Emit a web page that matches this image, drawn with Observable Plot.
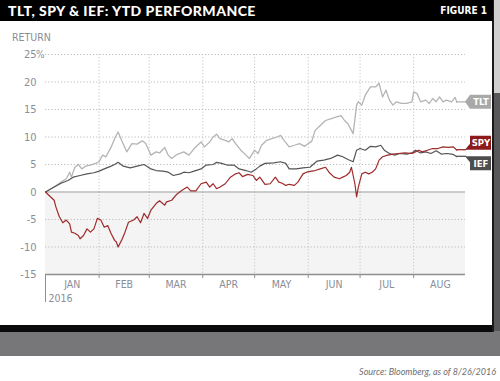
<!DOCTYPE html>
<html><head><meta charset="utf-8">
<script src="https://cdn.jsdelivr.net/npm/d3@7"></script>
<script src="https://cdn.jsdelivr.net/npm/@observablehq/plot@0.6"></script>
<style>
html,body{margin:0;padding:0;background:#fff;}
#wrap{position:relative;width:500px;height:381px;overflow:hidden;background:#fff;}
.abs{position:absolute;}
#shR{left:493px;top:0;width:7px;height:356px;background:#58585a;}
#shRl{left:494px;top:0;width:6px;height:93px;background:#cfcfd0;}
#shB{left:0;top:331px;width:500px;height:25px;background:#77777a;}
#blkB{left:0;top:325px;width:494px;height:7px;background:#0a0a0a;}
#blkR{left:492px;top:0;width:2px;height:332px;background:#1a1a1a;}
#bar{left:0;top:0;width:493px;height:21px;background:#000;}
#title{left:8px;top:2px;color:#fff;font-family:Lato,"Open Sans",sans-serif;font-weight:900;font-size:14px;letter-spacing:0.45px;line-height:17px;white-space:nowrap;}
#fig{left:420px;width:67px;text-align:right;top:4px;color:#fff;font-family:"DejaVu Sans Condensed","DejaVu Sans",sans-serif;font-stretch:condensed;font-weight:bold;font-size:10px;line-height:13px;white-space:nowrap;}
#ret{left:12px;top:31px;color:#8a8e98;font-family:"DejaVu Sans Condensed","DejaVu Sans",sans-serif;font-stretch:condensed;font-size:10.5px;line-height:12px;}
#src{right:4px;top:366px;color:#6e6e70;font-family:Lato,"Open Sans",sans-serif;font-style:italic;font-size:9px;line-height:11px;white-space:nowrap;}
#chart{left:0;top:0;}
</style></head>
<body><div id="wrap">
<div id="shR" class="abs"></div>
<div id="shRl" class="abs"></div>
<div id="shB" class="abs"></div>
<div id="chart" class="abs"></div>
<div id="blkB" class="abs"></div>
<div id="blkR" class="abs"></div>
<div id="bar" class="abs"></div>
<div id="title" class="abs">TLT, SPY &amp; IEF: YTD PERFORMANCE</div>
<div id="fig" class="abs">FIGURE 1</div>
<div id="ret" class="abs">RETURN</div>
<div id="src" class="abs">Source: Bloomberg, as of 8/26/2016</div>
</div>
<script>
// ---- data (YTD % return) ----
const tlt = [["2016-01-01",0],["2016-01-06",0.9],["2016-01-10",1.8],["2016-01-13",2.4],["2016-01-15",3.6],["2016-01-16",2.7],["2016-01-18",4.5],["2016-01-20",5.0],["2016-01-22",4.2],["2016-01-24",4.7],["2016-01-27",4.9],["2016-01-30",5.2],["2016-02-01",5.5],["2016-02-03",6.7],["2016-02-05",6.4],["2016-02-08",8.2],["2016-02-10",9.7],["2016-02-12",10.9],["2016-02-14",9.4],["2016-02-17",7.3],["2016-02-20",8.8],["2016-02-23",8.7],["2016-02-26",9.3],["2016-02-28",8.8],["2016-03-02",6.7],["2016-03-05",7.3],["2016-03-07",7.1],["2016-03-10",8.1],["2016-03-12",6.7],["2016-03-14",6.1],["2016-03-17",6.8],["2016-03-21",7.3],["2016-03-24",6.7],["2016-03-27",7.9],["2016-03-31",9.1],["2016-04-02",8.2],["2016-04-05",9.1],["2016-04-07",10.0],["2016-04-09",10.5],["2016-04-11",9.7],["2016-04-14",9.4],["2016-04-16",9.1],["2016-04-18",9.7],["2016-04-20",8.8],["2016-04-23",7.6],["2016-04-26",6.7],["2016-04-28",6.1],["2016-05-01",7.6],["2016-05-03",7.0],["2016-05-05",8.5],["2016-05-08",9.4],["2016-05-11",9.7],["2016-05-14",10.0],["2016-05-16",10.3],["2016-05-18",9.4],["2016-05-21",8.2],["2016-05-24",8.5],["2016-05-27",8.8],["2016-05-30",8.3],["2016-06-01",8.8],["2016-06-03",9.2],["2016-06-05",11.2],["2016-06-08",12.1],["2016-06-11",13.0],["2016-06-14",13.3],["2016-06-17",13.6],["2016-06-20",13.9],["2016-06-22",13.0],["2016-06-24",12.4],["2016-06-26",11.2],["2016-06-27",10.6],["2016-06-29",15.8],["2016-06-30",16.4],["2016-07-02",15.8],["2016-07-04",17.6],["2016-07-07",19.1],["2016-07-10",19.1],["2016-07-12",19.8],["2016-07-14",17.3],["2016-07-16",18.5],["2016-07-18",16.7],["2016-07-20",15.8],["2016-07-22",16.4],["2016-07-25",16.1],["2016-07-28",16.1],["2016-07-31",16.4],["2016-08-01",18.2],["2016-08-03",17.9],["2016-08-05",16.4],["2016-08-08",16.7],["2016-08-10",16.1],["2016-08-12",17.0],["2016-08-14",16.4],["2016-08-16",17.3],["2016-08-18",16.4],["2016-08-20",16.7],["2016-08-23",16.4],["2016-08-25",17.2],["2016-08-26",16.3]];
const spy = [["2016-01-01",0],["2016-01-04",-0.9],["2016-01-06",-1.5],["2016-01-07",-2.7],["2016-01-09",-4.5],["2016-01-11",-5.6],["2016-01-13",-5.1],["2016-01-15",-5.8],["2016-01-16",-7.3],["2016-01-18",-7.5],["2016-01-20",-7.9],["2016-01-21",-8.5],["2016-01-23",-7.9],["2016-01-25",-6.7],["2016-01-27",-7.3],["2016-01-29",-6.7],["2016-01-31",-4.8],["2016-02-02",-5.1],["2016-02-04",-6.4],["2016-02-06",-6.1],["2016-02-08",-7.6],["2016-02-10",-8.8],["2016-02-11",-9.1],["2016-02-12",-10.0],["2016-02-14",-8.8],["2016-02-16",-7.3],["2016-02-18",-5.5],["2016-02-21",-5.1],["2016-02-23",-4.5],["2016-02-25",-5.6],["2016-02-27",-3.9],["2016-02-29",-4.8],["2016-03-02",-3.3],["2016-03-05",-2.1],["2016-03-07",-1.6],["2016-03-10",-2.4],["2016-03-11",-1.8],["2016-03-14",-1.5],["2016-03-17",-0.4],["2016-03-20",0.3],["2016-03-23",0.9],["2016-03-25",0.2],["2016-03-28",0.2],["2016-03-31",1.5],["2016-04-03",1.8],["2016-04-05",0.9],["2016-04-07",1.5],["2016-04-09",0.6],["2016-04-11",0.9],["2016-04-14",1.5],["2016-04-17",2.7],["2016-04-20",3.3],["2016-04-22",3.5],["2016-04-24",2.8],["2016-04-27",3.2],["2016-04-30",3.0],["2016-05-02",2.1],["2016-05-04",2.7],["2016-05-07",1.4],["2016-05-10",1.5],["2016-05-13",2.7],["2016-05-15",1.8],["2016-05-17",1.6],["2016-05-19",1.2],["2016-05-21",1.4],["2016-05-24",1.2],["2016-05-26",1.8],["2016-05-29",3.3],["2016-05-31",3.6],["2016-06-03",3.8],["2016-06-05",3.9],["2016-06-08",4.2],["2016-06-11",4.5],["2016-06-13",3.6],["2016-06-16",2.7],["2016-06-19",2.4],["2016-06-21",2.7],["2016-06-23",3.0],["2016-06-25",3.6],["2016-06-26",4.5],["2016-06-28",1.5],["2016-06-29",-0.9],["2016-06-30",0.9],["2016-07-02",3.3],["2016-07-04",3.6],["2016-07-06",3.3],["2016-07-08",3.6],["2016-07-10",4.2],["2016-07-12",5.8],["2016-07-14",6.4],["2016-07-17",6.7],["2016-07-20",6.9],["2016-07-23",7.0],["2016-07-27",7.1],["2016-07-31",7.0],["2016-08-02",7.3],["2016-08-04",7.6],["2016-08-06",7.3],["2016-08-09",7.6],["2016-08-12",7.9],["2016-08-15",7.9],["2016-08-18",8.2],["2016-08-21",8.1],["2016-08-24",8.2],["2016-08-26",7.6]];
const ief = [["2016-01-01",0],["2016-01-06",0.9],["2016-01-10",1.6],["2016-01-14",2.1],["2016-01-17",2.7],["2016-01-21",3.0],["2016-01-25",3.3],["2016-01-29",3.5],["2016-02-01",3.8],["2016-02-04",4.2],["2016-02-08",4.7],["2016-02-10",5.0],["2016-02-12",5.4],["2016-02-15",4.7],["2016-02-19",4.4],["2016-02-23",4.7],["2016-02-27",5.0],["2016-03-02",4.2],["2016-03-05",3.9],["2016-03-09",3.8],["2016-03-12",3.6],["2016-03-15",3.0],["2016-03-19",3.3],["2016-03-21",3.6],["2016-03-24",3.5],["2016-03-27",3.8],["2016-03-31",4.2],["2016-04-03",4.9],["2016-04-07",5.0],["2016-04-09",5.4],["2016-04-12",5.2],["2016-04-15",4.9],["2016-04-19",4.9],["2016-04-22",4.2],["2016-04-26",3.9],["2016-04-29",3.6],["2016-05-02",4.2],["2016-05-04",4.7],["2016-05-07",5.2],["2016-05-12",5.3],["2016-05-16",5.5],["2016-05-19",5.2],["2016-05-21",4.2],["2016-05-25",4.2],["2016-05-29",4.4],["2016-06-02",4.5],["2016-06-06",5.6],["2016-06-10",5.8],["2016-06-14",6.1],["2016-06-18",6.7],["2016-06-21",6.4],["2016-06-24",5.9],["2016-06-27",5.5],["2016-06-29",7.6],["2016-07-01",7.9],["2016-07-04",7.6],["2016-07-07",8.3],["2016-07-10",8.2],["2016-07-13",8.5],["2016-07-15",7.6],["2016-07-18",7.0],["2016-07-21",6.7],["2016-07-24",7.0],["2016-07-28",6.9],["2016-07-31",7.1],["2016-08-02",7.6],["2016-08-05",7.1],["2016-08-08",7.3],["2016-08-11",7.0],["2016-08-14",7.5],["2016-08-17",6.9],["2016-08-20",7.0],["2016-08-23",6.9],["2016-08-24",6.8],["2016-08-26",6.4]];
const yTicks = [-15, -10, -5, 0, 5, 10, 15, 20, 25];
const yGrid = [-10, -5, 5, 10, 15, 20, 25];
const yearLabel = "2016";

// ---- build ----
const parse = d3.utcParse("%Y-%m-%d");
const rows = arr => arr.map(([d, v]) => ({date: parse(d), value: v}));
const tltRows = rows(tlt), spyRows = rows(spy), iefRows = rows(ief);
const start = parse("2016-01-01"), end = parse("2016-08-31");
const monthStarts = d3.utcMonth.range(start, parse("2016-09-01"));
const monthMids = monthStarts.map(m => new Date((+m + +d3.utcMonth.offset(m, 1)) / 2));
const fmtMonth = d3.utcFormat("%b");
const labelFill = "#8a8e98";
const narrow = "'DejaVu Sans Condensed','DejaVu Sans',sans-serif";

function endTag(data, label, fill, lineColor, kind) {
  return (index, scales, values, dim) => {
    const last = data[data.length - 1];
    const x0 = scales.x(last.date), y0 = scales.y(last.value);
    const tx = dim.width - dim.marginRight;
    const bx = tx + 5, bw = 21, bh = 14;
    let pts, by;
    if (kind === "mid") { by = y0 - 7; pts = [[tx, y0], [bx, by], [bx + bw, by], [bx + bw, by + bh], [bx, by + bh]]; }
    else if (kind === "up") { by = y0 - bh; pts = [[tx, y0], [bx, y0 - 6], [bx, by], [bx + bw, by], [bx + bw, y0]]; }
    else { by = y0; pts = [[tx, y0], [bx + bw, y0], [bx + bw, y0 + bh], [bx, y0 + bh], [bx, y0 + 6]]; }
    const g = d3.create("svg:g");
    g.append("line").attr("x1", x0).attr("y1", y0).attr("x2", tx + 1).attr("y2", y0)
      .attr("stroke", lineColor).attr("stroke-width", 1.3);
    g.append("polygon").attr("points", pts.map(p => p.join(",")).join(" ")).attr("fill", fill);
    g.append("text").attr("x", bx + bw / 2 + 0.5).attr("y", by + bh / 2).attr("dy", "0.36em")
      .attr("text-anchor", "middle").attr("fill", "#fff").attr("font-size", 9.5)
      .attr("font-weight", "bold").attr("font-family", narrow).style("font-stretch", "condensed").text(label);
    return g.node();
  };
}

const chart = Plot.plot({
  width: 492, height: 325,
  marginLeft: 45, marginRight: 27, marginTop: 54, marginBottom: 51,
  style: {fontFamily: narrow, fontStretch: "condensed", background: "transparent", overflow: "visible"},
  x: {type: "utc", domain: [start, end], axis: null},
  y: {domain: [-15, 25], axis: null},
  marks: [
    Plot.rect([{x1: start, x2: end, y1: -15, y2: 0}], {x1: "x1", x2: "x2", y1: "y1", y2: "y2", fill: "#f4f4f4"}),
    Plot.ruleY(yGrid, {stroke: "#bdbdbd", strokeDasharray: "1.2,2"}),
    Plot.ruleX(monthStarts.slice(1), {stroke: "#c6c6c6", strokeDasharray: "1.2,2"}),
    Plot.ruleY([0], {stroke: "#9d9d9d", strokeWidth: 1}),
    Plot.ruleY([-15], {stroke: "#8f8f8f", strokeWidth: 1.4}),
    Plot.axisX(monthStarts.slice(1), {tickSize: 4, tickFormat: () => "", stroke: "#8f8f8f", label: null}),
    Plot.axisX([start], {tickSize: 28, tickFormat: () => "", stroke: "#8f8f8f", label: null}),
    Plot.axisX(monthMids, {tickSize: 0, tickPadding: 6, tickFormat: d => fmtMonth(d).toUpperCase(), fill: labelFill, fontSize: 10.5, label: null}),
    Plot.text([start], {x: d => d, y: () => -15, text: () => yearLabel, dy: 24, dx: 3, textAnchor: "start", fill: labelFill, fontSize: 10.5}),
    Plot.axisY(yTicks, {tickSize: 0, tickPadding: 9, tickFormat: d => String(d), fill: labelFill, fontSize: 11, label: null}),
    Plot.text([25], {x: () => start, y: d => d, text: () => "%", textAnchor: "end", dx: -1, fill: labelFill, fontSize: 10}),
    Plot.line(tltRows, {x: "date", y: "value", stroke: "#b4b4b4", strokeWidth: 1.3}),
    Plot.line(iefRows, {x: "date", y: "value", stroke: "#555555", strokeWidth: 1.2}),
    Plot.line(spyRows, {x: "date", y: "value", stroke: "#9e2b2b", strokeWidth: 1.2}),
    endTag(tltRows, "TLT", "#a9a9a9", "#b4b4b4", "mid"),
    endTag(spyRows, "SPY", "#8e1b1b", "#9e2b2b", "up"),
    endTag(iefRows, "IEF", "#4d4d4d", "#555555", "down")
  ]
});
document.getElementById("chart").appendChild(chart);
</script>
</body></html>
